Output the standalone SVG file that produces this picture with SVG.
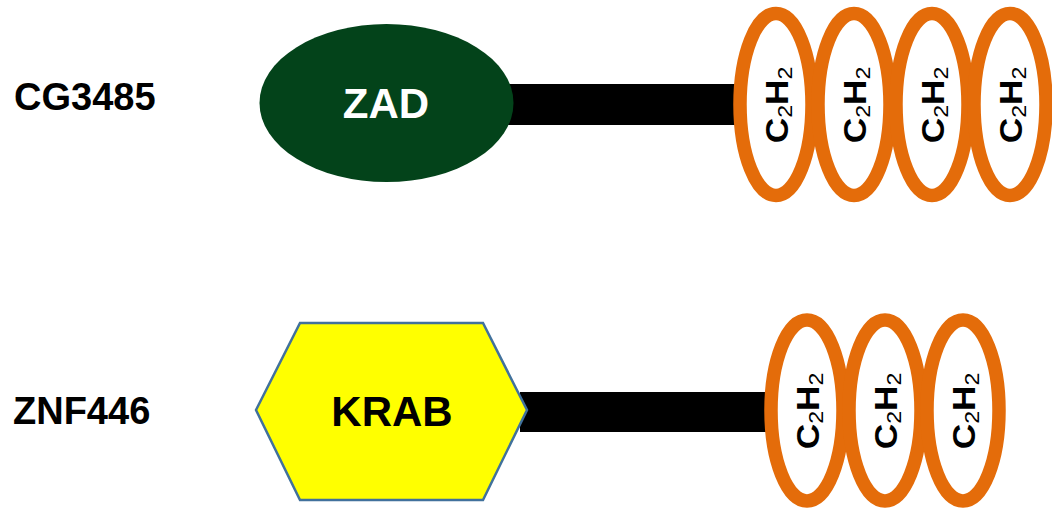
<svg xmlns="http://www.w3.org/2000/svg" width="1052" height="510" viewBox="0 0 1052 510">
<style>
.lbl{font-family:"Liberation Sans",Arial,sans-serif;font-weight:bold;font-size:38px;fill:#000}
.dom{font-family:"Liberation Sans",Arial,sans-serif;font-weight:bold;font-size:42px;text-anchor:middle}
.zf{fill:#fff;stroke:#E46C0A;stroke-width:13.5}
.zt{font-family:"Liberation Sans",Arial,sans-serif;font-weight:bold;font-size:32px;fill:#000;text-anchor:middle}
.sub{font-weight:normal;font-size:21px}
.bar{fill:#000}
</style>
<rect width="1052" height="510" fill="#fff"/>
<g id="connectors">
<rect class="bar" x="505" y="84" width="235" height="41"/>
<rect class="bar" x="520" y="392" width="252" height="40"/>
</g>
<g id="label-cg3485"><text class="lbl" x="14" y="110">CG3485</text></g>
<g id="label-znf446"><text class="lbl" x="13" y="424">ZNF446</text></g>
<g id="zad">
<ellipse cx="386.5" cy="103" rx="127" ry="79" fill="#03431A"/>
<text class="dom" x="386" y="118" fill="#fff">ZAD</text>
</g>
<g id="krab">
<polygon points="256,410 300,323 483,323 527,410 483,500 300,500" fill="#FFFF00" stroke="#41719C" stroke-width="2.5"/>
<text class="dom" x="392" y="426" fill="#000">KRAB</text>
</g>
<g id="zf-top-1"><ellipse class="zf" cx="776" cy="104.5" rx="36" ry="91"/><text class="zt" transform="translate(776,105) rotate(-90) scale(1.1,1)" y="11.5">C<tspan class="sub" dy="4">2</tspan><tspan dy="-4">H</tspan><tspan class="sub" dy="4">2</tspan></text></g>
<g id="zf-top-2"><ellipse class="zf" cx="854" cy="104.5" rx="36" ry="91"/><text class="zt" transform="translate(854,105) rotate(-90) scale(1.1,1)" y="11.5">C<tspan class="sub" dy="4">2</tspan><tspan dy="-4">H</tspan><tspan class="sub" dy="4">2</tspan></text></g>
<g id="zf-top-3"><ellipse class="zf" cx="932" cy="104.5" rx="36" ry="91"/><text class="zt" transform="translate(932,105) rotate(-90) scale(1.1,1)" y="11.5">C<tspan class="sub" dy="4">2</tspan><tspan dy="-4">H</tspan><tspan class="sub" dy="4">2</tspan></text></g>
<g id="zf-top-4"><ellipse class="zf" cx="1010" cy="104.5" rx="36" ry="91"/><text class="zt" transform="translate(1010,105) rotate(-90) scale(1.1,1)" y="11.5">C<tspan class="sub" dy="4">2</tspan><tspan dy="-4">H</tspan><tspan class="sub" dy="4">2</tspan></text></g>
<g id="zf-bot-1"><ellipse class="zf" cx="807" cy="410.5" rx="36" ry="90.5"/><text class="zt" transform="translate(807,411) rotate(-90) scale(1.1,1)" y="11.5">C<tspan class="sub" dy="4">2</tspan><tspan dy="-4">H</tspan><tspan class="sub" dy="4">2</tspan></text></g>
<g id="zf-bot-2"><ellipse class="zf" cx="885" cy="410.5" rx="36" ry="90.5"/><text class="zt" transform="translate(885,411) rotate(-90) scale(1.1,1)" y="11.5">C<tspan class="sub" dy="4">2</tspan><tspan dy="-4">H</tspan><tspan class="sub" dy="4">2</tspan></text></g>
<g id="zf-bot-3"><ellipse class="zf" cx="963" cy="410.5" rx="36" ry="90.5"/><text class="zt" transform="translate(963,411) rotate(-90) scale(1.1,1)" y="11.5">C<tspan class="sub" dy="4">2</tspan><tspan dy="-4">H</tspan><tspan class="sub" dy="4">2</tspan></text></g>
</svg>
